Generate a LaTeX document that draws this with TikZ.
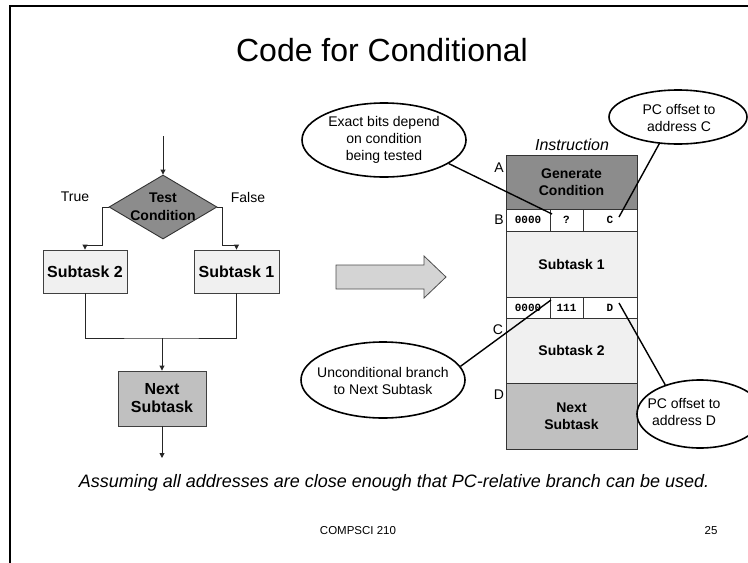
\documentclass[tikz,border=0pt]{standalone}
\usepackage{fontspec}
\setmainfont{Liberation Sans}
\setmonofont{Liberation Mono}
\usetikzlibrary{shapes.geometric,arrows.meta}
\newcommand\fsz[2]{\fontsize{#1}{#2}\selectfont}
\definecolor{darkfill}{HTML}{8C8C8C}
\definecolor{midfill}{HTML}{C0C0C0}
\definecolor{lightfill}{HTML}{F0F0F0}
\definecolor{arrowfill}{HTML}{D4D4D4}
\tikzset{
  flowline/.style={draw=black!85, line width=0.9pt},
  flowarrow/.style={flowline, -{Triangle[length=5pt,width=5pt]}},
  flowbox/.style={draw=black!75, line width=0.9pt, rectangle, inner sep=0pt,
    font=\bfseries\fsz{16}{18}, align=center},
  cell/.style={draw=black!80, line width=0.9pt, rectangle, inner sep=0pt,
    font=\bfseries\fsz{14}{17}, align=center},
  bitcell/.style={cell, fill=white, font=\ttfamily\bfseries\fsz{11}{12}, minimum height=22pt},
  callout/.style={draw=black, line width=1.6pt, ellipse, fill=white, inner sep=0pt},
  callouttext/.style={font=\fsz{14}{17}, align=center, inner sep=0pt},
  pointer/.style={draw=black, line width=1.4pt},
  plain/.style={font=\fsz{14}{17}, inner sep=0pt},
}
\begin{document}
\begin{tikzpicture}[x=1pt,y=-1pt]
\useasboundingbox (0,0) rectangle (748,563);
% slide frame
\draw[line width=2.5pt, line cap=rect] (748,6) -- (10,6) -- (10,563);

% title
\node[font=\fsz{32}{36}] (title) at (382,50) {Code for Conditional};

% ---------- flowchart ----------
\coordinate (entry) at (163,136);
\node[diamond, draw=black!80, line width=0.9pt, fill=darkfill, inner sep=0pt,
      minimum width=108pt, minimum height=64pt, aspect=1.7] (test) at (163,207) {};
\node[font=\bfseries\fsz{14}{18}, align=center, inner sep=0pt] (testtext) at (163,207) {Test\\Condition};
\node[plain] (truelbl) at (75,197) {True};
\node[plain] (falselbl) at (248,197) {False};

\node[flowbox, fill=lightfill, minimum width=84pt, minimum height=43pt] (sub2) at (85,271.5) {Subtask 2};
\node[flowbox, fill=lightfill, minimum width=85pt, minimum height=43pt] (sub1) at (236.5,271.5) {Subtask 1};
\node[flowbox, fill=midfill, minimum width=88pt, minimum height=55pt] (nextL) at (162,398.5) {Next\\Subtask};

\coordinate (tl) at (102,245);
\coordinate (tr) at (222,245);
\coordinate (merge) at (162,338);
\coordinate (exit) at (162,458);

\draw[flowarrow] (entry) -- (test.north);
\draw[flowarrow] (test.west) -| (tl) -| (sub2.north);
\draw[flowarrow] (test.east) -| (tr) -| (sub1.north);
\draw[flowline] (sub2.south) |- (merge) -| (sub1.south);
\draw[flowarrow] (merge) -- (nextL.north);
\draw[flowarrow] (nextL.south) -- (exit);

% ---------- big arrow ----------
\coordinate (ba) at (336,277);
\draw[draw=black!70, line width=0.8pt, fill=arrowfill]
  (ba) ++(0,-12) -- ++(88,0) -- ++(0,-9) -- (446,277) -- (424,298) -- ++(0,-9) -- ++(-88,0) -- cycle;

% ---------- instruction layout ----------
\node[font=\itshape\fsz{16}{18}] (instr) at (572,145) {Instruction};

\node[cell, fill=darkfill, minimum width=131pt, minimum height=54pt] (gen) at (571.5,182) {Generate\\Condition};
\node[bitcell, minimum width=44pt] (b1) at (528,220) {0000};
\node[bitcell, minimum width=33pt] (b2) at (566.5,220) {?};
\node[bitcell, minimum width=54pt] (b3) at (610,220) {C};
\node[cell, fill=lightfill, minimum width=131pt, minimum height=66pt] (s1) at (571.5,264) {Subtask 1};
\node[bitcell, minimum width=44pt, minimum height=21pt] (u1) at (528,307.5) {0000};
\node[bitcell, minimum width=33pt, minimum height=21pt] (u2) at (566.5,307.5) {111};
\node[bitcell, minimum width=54pt, minimum height=21pt] (u3) at (610,307.5) {D};
\node[cell, fill=lightfill, minimum width=131pt, minimum height=65pt] (s2) at (571.5,350.5) {Subtask 2};
\node[cell, fill=midfill, minimum width=131pt, minimum height=66pt] (nextR) at (571.5,416) {Next\\Subtask};

\node[plain] (lblA) at (499,168) {A};
\node[plain] (lblB) at (499,220) {B};
\node[plain] (lblC) at (498,330) {C};
\node[plain] (lblD) at (499,395) {D};

% ---------- callouts ----------
\coordinate (pq) at (552,214);
\coordinate (pc) at (619,217);
\coordinate (pu) at (551,300);
\coordinate (pd) at (619,303);

\node[callout, minimum width=164pt, minimum height=74pt] (exact) at (384,140) {};
\node[callout, minimum width=138pt, minimum height=54pt] (offC) at (678,117) {};
\node[callout, minimum width=164pt, minimum height=76pt] (uncond) at (383,380) {};
\node[callout, minimum width=126pt, minimum height=68pt] (offD) at (700,414) {};

\draw[pointer] (exact.-20) -- (pq);
\draw[pointer] (offC.-125) -- (pc);
\draw[pointer] (uncond.10) -- (pu);
\draw[pointer] (offD.140) -- (pd);

\node[callouttext] (exactT) at (exact) {Exact bits depend\\on condition\\being tested};
\node[callouttext] (offCT) at (679,118) {PC offset to\\address C};
\node[callouttext] (uncondT) at (383,381) {Unconditional branch\\to Next Subtask};
\node[callouttext] (offDT) at (684,412) {PC offset to\\address D};

% ---------- footer ----------
\node[font=\itshape\fsz{18}{20}] (note) at (394,483)
  {Assuming all addresses are close enough that PC-relative branch can be used.};
\node[font=\fsz{11.5}{13}] (course) at (358,531) {COMPSCI 210};
\node[font=\fsz{11.5}{13}] (page) at (711,531) {25};
\end{tikzpicture}
\end{document}
